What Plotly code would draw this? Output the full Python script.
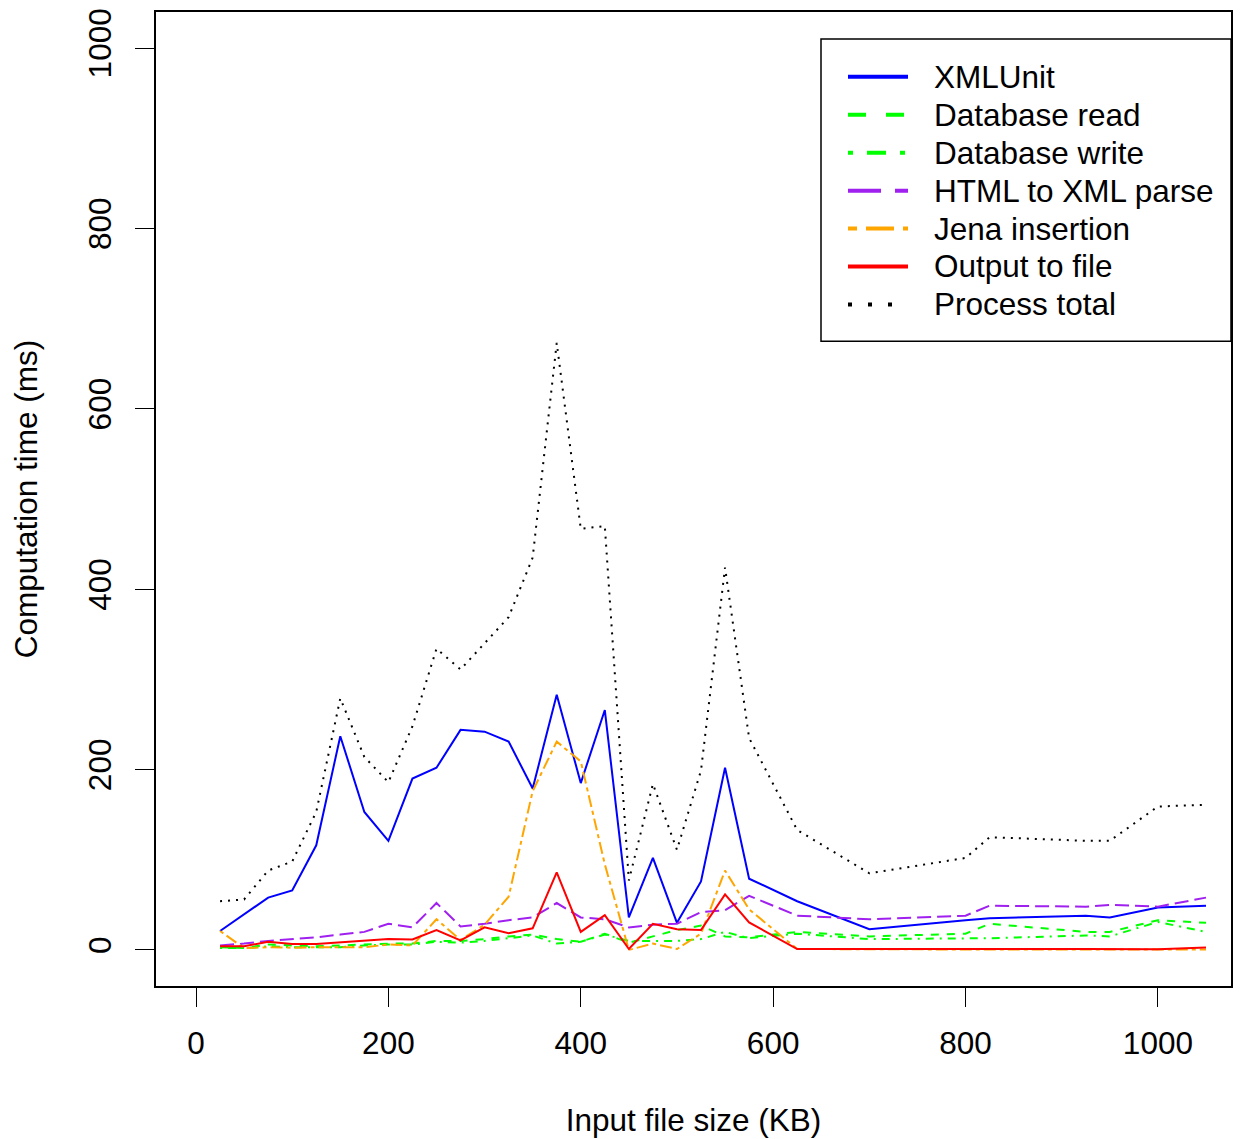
import plotly.graph_objects as go

# Input file sizes (KB)
file_size = [25, 50, 75, 100, 125, 150, 175, 200, 225, 250, 275, 300, 325, 350, 375,
             400, 425, 450, 475, 500, 525, 550, 575, 625, 700, 800, 825, 925, 950, 1000, 1050]

xmlunit = [21, 40, 58, 66, 116, 237, 153, 121, 190, 202, 244, 242, 231, 179, 283,
           185, 266, 36, 102, 30, 76, 202, 79, 54, 23, 33, 35, 38, 36, 47, 49]
db_read = [3, 2, 6, 5, 4, 5, 6, 7, 7, 10, 10, 12, 15, 17, 12,
           9, 18, 8, 15, 22, 27, 15, 14, 20, 15, 18, 29, 20, 20, 33, 30]
db_write = [2, 2, 4, 3, 3, 3, 5, 6, 6, 9, 8, 10, 13, 16, 7,
            9, 17, 10, 10, 10, 12, 20, 13, 18, 12, 13, 13, 16, 15, 31, 20]
html_parse = [5, 7, 10, 12, 14, 17, 20, 29, 25, 52, 26, 29, 33, 36, 52,
              36, 34, 25, 28, 29, 42, 44, 60, 38, 34, 38, 49, 48, 50, 48, 58]
jena = [21, 2, 3, 2.5, 3, 3, 3, 6, 5, 34, 11, 28, 59, 176, 231,
        209, 95, 0, 7, 1, 18, 88, 45, 1, 0.5, 0.5, 0.5, 0.5, 0.5, 0.5, 0.5]
output_file = [4, 4, 9, 6.5, 6.5, 8.5, 10, 12, 11.5, 22, 10.5, 25, 18.5, 24, 86,
               20, 38.5, 1, 29, 23, 22, 61.5, 30.5, 1, 1, 1.5, 1, 1, 1, 0.8, 2.6]
process_total = [54, 56, 88, 98, 153, 279, 214, 186, 248, 334, 311, 340, 369, 435, 673,
                 467, 470, 77, 184, 111, 199, 424, 235, 133, 85, 102, 125, 121, 121, 159, 161]

series_names = ["XMLUnit", "Database read", "Database write", "HTML to XML parse",
                "Jena insertion", "Output to file", "Process total"]
series_values = [xmlunit, db_read, db_write, html_parse, jena, output_file, process_total]
series_colors = ["#0000FF", "#00FF00", "#00FF00", "#A020F0", "#FFA500", "#FF0000", "#000000"]
plot_dash = ["solid", "8px,8px", "2px,6px,8px,6px", "14px,6px", "4px,4px,12px,4px",
             "solid", "2px,6px"]
legend_dash = ["solid", "18px,20px", "5px,14px,19px,14px", "33px,14px", "9px,9px,28px,9px",
               "solid", "4px,16px"]

tick_vals_x = [0, 200, 400, 600, 800, 1000]
tick_vals_y = [0, 200, 400, 600, 800, 1000]

fig = go.Figure()
for name, vals, col, dsh in zip(series_names, series_values, series_colors, plot_dash):
    fig.add_trace(go.Scatter(x=file_size, y=vals, mode="lines", name=name,
                             showlegend=False,
                             line=dict(color=col, width=2, dash=dsh)))

font_family = "Liberation Sans, Arial, Helvetica, sans-serif"
FS = 31.5

# ---- legend box (drawn in paper coordinates, top-right of the plot) ----
PLOT_L, PLOT_R, PLOT_T, PLOT_B = 156, 1231, 10, 986
def px_x(p):
    return (p - PLOT_L) / (PLOT_R - PLOT_L)
def px_y(p):
    return (PLOT_B - p) / (PLOT_B - PLOT_T)

fig.add_shape(type="rect", xref="paper", yref="paper",
              x0=px_x(821), x1=px_x(1231), y0=px_y(340), y1=px_y(37),
              line=dict(color="black", width=1.5), fillcolor="white", layer="above")
for i, (name, col, dsh) in enumerate(zip(series_names, series_colors, legend_dash)):
    row_y = px_y(75 + 38 * i)
    fig.add_shape(type="line", xref="paper", yref="paper",
                  x0=px_x(848), x1=px_x(908), y0=row_y, y1=row_y,
                  line=dict(color=col, width=4, dash=dsh), layer="above")
    fig.add_annotation(xref="paper", yref="paper", x=px_x(932), y=row_y,
                       xanchor="left", yanchor="middle", text=name, showarrow=False,
                       font=dict(size=FS, color="black", family=font_family))

axis_common = dict(showgrid=False, zeroline=False, showline=True, mirror=True,
                   linecolor="black", linewidth=1.5, ticks="outside", ticklen=19,
                   tickwidth=1.2, tickcolor="black", ticklabeloverflow="allow",
                   tickfont=dict(size=FS, color="black", family=font_family))

fig.update_layout(
    width=1235, height=1131,
    margin=dict(l=148, r=12, t=0, b=153),
    paper_bgcolor="white", plot_bgcolor="white",
    font=dict(family=font_family, size=FS, color="black"),
    xaxis=dict(range=[-41.6, 1076], tickmode="array", tickvals=tick_vals_x,
               title=dict(text="Input file size (KB)", standoff=49,
                          font=dict(size=FS, color="black")),
               ticklabelstandoff=9, **axis_common),
    yaxis=dict(range=[-40, 1040], tickmode="array", tickvals=tick_vals_y,
               tickangle=-90,
               title=dict(text="Computation time (ms)", standoff=40,
                          font=dict(size=FS, color="black")),
               ticklabelstandoff=12, **axis_common),
    showlegend=False,
)

fig.write_html("out.html", config={"displayModeBar": False})
